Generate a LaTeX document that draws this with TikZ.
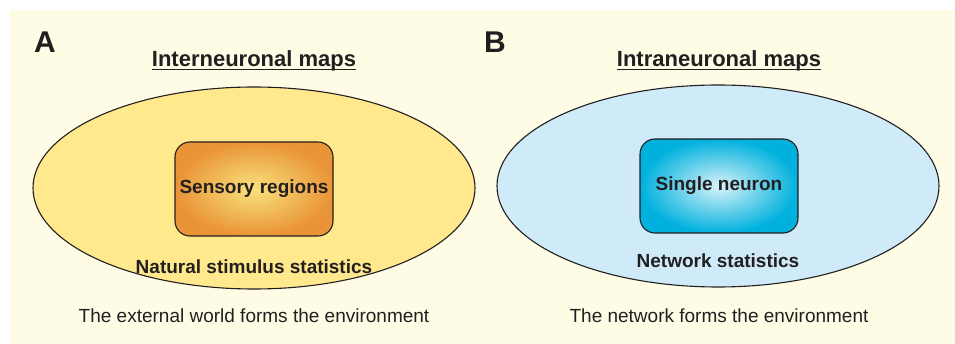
\documentclass[tikz,border=0pt]{standalone}
\usepackage{fontspec}
\setmainfont{Liberation Sans}
\usetikzlibrary{shapes.geometric}

\definecolor{inktext}{HTML}{231F20}
\definecolor{panelin}{HTML}{FFFCE6}
\definecolor{panelout}{HTML}{FCEACA}
\definecolor{panelcorner}{HTML}{FBE3BC}
\definecolor{ellyellow}{HTML}{FFE98C}
\definecolor{ellblue}{HTML}{CFEBFA}
\definecolor{orangein}{HTML}{F9E27C}
\definecolor{orangeout}{HTML}{E99437}
\definecolor{cyanin}{HTML}{D9F2FA}
\definecolor{cyanout}{HTML}{00B1DD}

\pgfdeclareradialshading{panelglow}{\pgfpoint{0bp}{0bp}}{color(0bp)=(panelin); color(38bp)=(panelin); color(50bp)=(panelout); color(71bp)=(panelcorner)}

\begin{document}
\begin{tikzpicture}[x=1pt,y=-1pt,
  letter/.style={text=inktext, font=\fontsize{30}{34}\selectfont\bfseries},
  maptitle/.style={text=inktext, inner sep=0pt, font=\fontsize{22}{26}\selectfont\bfseries},
  underbar/.style={draw=inktext, line width=1pt},
  world/.style={ellipse, draw=inktext, line width=1.1pt, inner sep=0pt,
    minimum width=442pt, minimum height=202pt},
  region/.style={rectangle, rounded corners=15pt, draw=inktext, line width=1.1pt,
    minimum width=158pt, minimum height=94pt, text=inktext,
    font=\fontsize{19}{22}\selectfont\bfseries},
  stat/.style={text=inktext, font=\fontsize{19}{22}\selectfont\bfseries},
  caption/.style={text=inktext, font=\fontsize{19}{22}\selectfont}]
\useasboundingbox (0,0) rectangle (955,344);
\shade[shading=panelglow] (10,11) rectangle (955,344);

% A: interneuronal maps
\node[letter] (labA) at (45,42) {A};
\node[maptitle] (titA) at (254,61) {Interneuronal maps};
\draw[underbar] ([yshift=-3pt]titA.base west) -- ([yshift=-3pt]titA.base east);
\node[world, fill=ellyellow] (ellA) at (254,188) {};
\node[region, inner color=orangein, outer color=orangeout] (boxA) at (254,189) {Sensory regions};
\node[stat] (statA) at (254,267) {Natural stimulus statistics};
\node[caption] (capA) at (254,316) {The external world forms the environment};

% B: intraneuronal maps
\node[letter] (labB) at (495,42) {B};
\node[maptitle] (titB) at (719,61) {Intraneuronal maps};
\draw[underbar] ([yshift=-3pt]titB.base west) -- ([yshift=-3pt]titB.base east);
\node[world, fill=ellblue] (ellB) at (718,186) {};
\node[region, inner color=cyanin, outer color=cyanout] (boxB) at (719,186) {Single neuron};
\node[stat] (statB) at (718,261) {Network statistics};
\node[caption] (capB) at (719,316) {The network forms the environment};
\end{tikzpicture}
\end{document}
